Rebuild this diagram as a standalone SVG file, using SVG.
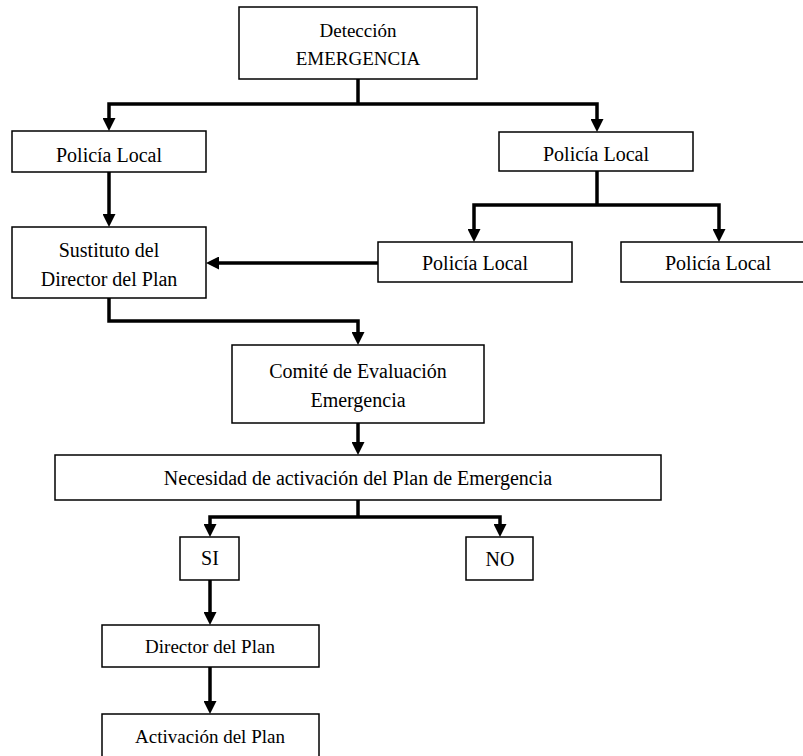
<svg xmlns="http://www.w3.org/2000/svg" width="803" height="756" viewBox="0 0 803 756">
<style>
.box{fill:#fff;stroke:#000;stroke-width:1.5}
.t{font-family:"Liberation Serif","Times New Roman",serif;font-size:20px;fill:#000;text-anchor:middle}
.s{font-size:19px}
.c{fill:none;stroke:#000;stroke-width:3.5;stroke-linejoin:miter}
.a{marker-end:url(#arr)}
</style>
<defs>
<marker id="arr" markerUnits="userSpaceOnUse" markerWidth="13" markerHeight="13" viewBox="0 0 13 13" refX="5" refY="6.5" orient="auto">
<path d="M0,0 L13,6.5 L0,13 z" fill="#000"/>
</marker>
</defs>
<rect width="803" height="756" fill="#fff"/>
<g id="connectors">
<path class="c" d="M358,79 V104"/>
<path class="c a" d="M358,104 H109 V123"/>
<path class="c a" d="M358,104 H597 V124"/>
<path class="c a" d="M109,172 V219"/>
<path class="c" d="M597,171 V205"/>
<path class="c a" d="M597,205 H474 V234"/>
<path class="c a" d="M597,205 H719 V234"/>
<path class="c a" d="M378,263 H214"/>
<path class="c a" d="M109,298 V321 H358 V337"/>
<path class="c a" d="M358,423 V447"/>
<path class="c" d="M358,500 V517"/>
<path class="c a" d="M358,517 H210 V529"/>
<path class="c a" d="M358,517 H500 V529"/>
<path class="c a" d="M210,580 V617"/>
<path class="c a" d="M210,667 V706"/>
</g>
<g id="n-deteccion">
<rect class="box" x="239" y="7" width="238" height="72"/>
<text class="t s" x="358" y="37">Detección</text>
<text class="t s" x="358" y="65">EMERGENCIA</text>
</g>
<g id="n-policia-1">
<rect class="box" x="12" y="131" width="194" height="41"/>
<text class="t" x="109" y="162">Policía Local</text>
</g>
<g id="n-policia-2">
<rect class="box" x="499" y="132" width="194" height="39"/>
<text class="t" x="596" y="161">Policía Local</text>
</g>
<g id="n-sustituto">
<rect class="box" x="12" y="227" width="194" height="71"/>
<text class="t" x="109" y="257">Sustituto del</text>
<text class="t" x="109" y="286">Director del Plan</text>
</g>
<g id="n-policia-3">
<rect class="box" x="378" y="242" width="194" height="40"/>
<text class="t" x="475" y="270">Policía Local</text>
</g>
<g id="n-policia-4">
<rect class="box" x="621" y="242" width="194" height="40"/>
<text class="t" x="718" y="270">Policía Local</text>
</g>
<g id="n-comite">
<rect class="box" x="232" y="345" width="252" height="78"/>
<text class="t" x="358" y="378">Comité de Evaluación</text>
<text class="t" x="358" y="407">Emergencia</text>
</g>
<g id="n-necesidad">
<rect class="box" x="55" y="455" width="606" height="45"/>
<text class="t" x="358" y="485">Necesidad de activación del Plan de Emergencia</text>
</g>
<g id="n-si">
<rect class="box" x="180" y="537" width="59" height="43"/>
<text class="t" x="210" y="565">SI</text>
</g>
<g id="n-no">
<rect class="box" x="466" y="537" width="67" height="43"/>
<text class="t" x="500" y="566">NO</text>
</g>
<g id="n-director">
<rect class="box" x="102" y="625" width="217" height="42"/>
<text class="t s" x="210" y="653">Director del Plan</text>
</g>
<g id="n-activacion">
<rect class="box" x="102" y="714" width="217" height="60"/>
<text class="t s" x="210" y="743">Activación del Plan</text>
</g>
</svg>
